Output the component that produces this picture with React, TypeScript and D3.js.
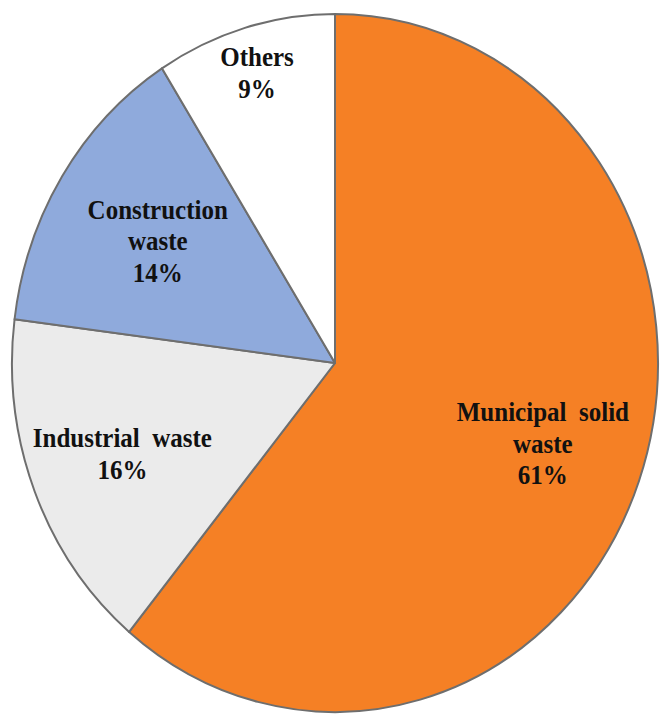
import React from "react";
import * as d3 from "d3";

const categories = ["Municipal solid waste", "Industrial waste", "Construction waste", "Others"];
const values = [61, 16, 14, 9];
const labelLines = [
  ["Municipal  solid", "waste", "61%"],
  ["Industrial  waste", "16%"],
  ["Construction", "waste", "14%"],
  ["Others", "9%"],
];
const colors = ["#F58025", "#EBEBEB", "#8FAADC", "#FFFFFF"];
const labelRadiusFactor = [0.684, 0.708, 0.65, 0.865];

export default function App() {
  const W = 660;
  const H = 714;
  const cx = 335;
  const cy = 363;
  const rx = 323;
  const ry = 349;
  const k = ry / rx;
  const pie = d3.pie<number>().sort(null).value((d) => d);
  const arcs = pie(values);
  const arc = d3.arc<d3.PieArcDatum<number>>().innerRadius(0).outerRadius(rx);
  const fontSize = 25;
  const lh = 29;

  return (
    <svg width={W} height={H} style={{ position: "absolute", left: 0, top: 0, background: "#fff" }}>
      <g transform={`translate(${cx},${cy}) scale(1,${k})`}>
        {arcs.map((a, i) => (
          <path
            key={categories[i]}
            d={arc(a) || ""}
            fill={colors[i]}
            stroke="#6E6E6E"
            strokeWidth={2}
            strokeLinejoin="round"
            vectorEffect="non-scaling-stroke"
          />
        ))}
        {arcs.map((a, i) => {
          const r = rx * labelRadiusFactor[i];
          const la = d3.arc<d3.PieArcDatum<number>>().innerRadius(r).outerRadius(r);
          const [x, y] = la.centroid(a);
          const lines = labelLines[i];
          const y0 = y - ((lines.length - 1) / 2) * lh;
          return (
            <text
              key={"l" + i}
              x={x}
              y={y0}
              textAnchor="middle"
              fill="#111"
              style={{
                whiteSpace: "pre",
                fontFamily: '"Liberation Serif", "Times New Roman", Times, serif',
                fontWeight: 700,
                fontSize: fontSize + "px",
              }}
            >
              {lines.map((t, j) => (
                <tspan key={j} x={x} y={y0 + j * lh} dy="0.33em">
                  {t}
                </tspan>
              ))}
            </text>
          );
        })}
      </g>
    </svg>
  );
}
